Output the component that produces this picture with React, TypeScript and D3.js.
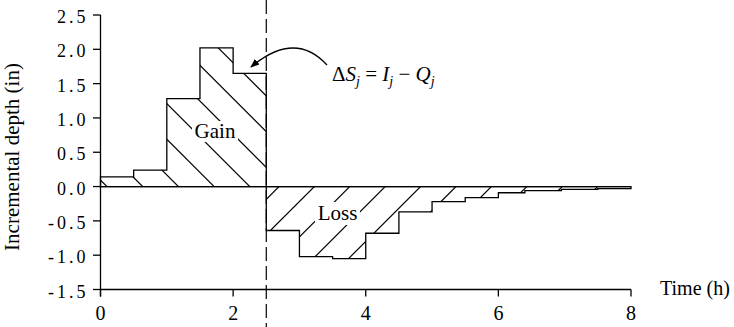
import React from 'react';
import * as d3 from 'd3';

const W = 734;
const H = 327;

// step edges (h) and incremental depth per step (in)
const gainEdges = [0, 0.5, 1.0, 1.5, 2.0, 2.5];
const gainDepths = [0.14, 0.24, 1.28, 2.02, 1.65];
const lossEdges = [2.5, 3.0, 3.5, 4.0, 4.5, 5.0, 5.5, 6.0, 6.4, 6.95, 7.5, 8.0];
const lossDepths = [-0.64, -1.02, -1.05, -0.68, -0.37, -0.22, -0.16, -0.09, -0.06, -0.04, -0.03];

const xTicks = [0, 2, 4, 6, 8];
const yTicks = [2.5, 2.0, 1.5, 1.0, 0.5, 0.0, -0.5, -1.0, -1.5];
const dividerTime = 2.5;

const font = '"Liberation Serif", "Times New Roman", serif';

const x = d3.scaleLinear().domain([0, 8]).range([100.5, 631]);
const y = d3.scaleLinear().domain([-1.5, 2.5]).range([289.5, 15]);

const line = d3.line<[number, number]>().x(d => x(d[0])).y(d => y(d[1]));

function stepPoints(edges: number[], vals: number[]): [number, number][] {
  const pts: [number, number][] = [[edges[0], 0]];
  vals.forEach((v, i) => {
    pts.push([edges[i], v]);
    pts.push([edges[i + 1], v]);
  });
  pts.push([edges[edges.length - 1], 0]);
  return pts;
}

const gainPath = line(stepPoints(gainEdges, gainDepths)) + 'Z';
const lossPath = line(stepPoints(lossEdges, lossDepths)) + 'Z';

// hatch lines, spaced along the zero line
const y0 = y(0);
const gainHatch = d3.range(0, 9).map(k => {
  const c = 107 + k * 35.7;
  return `M${c - 260},${y0 - 260}L${c + 40},${y0 + 40}`;
});
const lossHatch = d3.range(0, 11).map(k => {
  const c = 279 + k * 35.4;
  return `M${c + 40},${y0 - 40}L${c - 220},${y0 + 220}`;
});

export default function App() {
  const ax = x(0);
  const ay = y(-1.5);
  return (
    <svg width={W} height={H} style={{ display: 'block', position: 'absolute', left: 0, top: 0 }}>
      <defs>
        <clipPath id="gainClip"><path d={gainPath} /></clipPath>
        <clipPath id="lossClip"><path d={lossPath} /></clipPath>
        <marker id="head" viewBox="0 0 10 10" refX="9" refY="5" markerWidth="9" markerHeight="9"
          markerUnits="userSpaceOnUse" orient="auto">
          <path d="M0,1L10,5L0,9Z" fill="#000" />
        </marker>
      </defs>
      <rect width={W} height={H} fill="#fff" />

      {/* hatching */}
      <g clipPath="url(#gainClip)" stroke="#000" strokeWidth={1.2}>
        {gainHatch.map((d, i) => <path key={i} d={d} />)}
      </g>
      <g clipPath="url(#lossClip)" stroke="#000" strokeWidth={1.2}>
        {lossHatch.map((d, i) => <path key={i} d={d} />)}
      </g>

      {/* region outlines */}
      <path d={gainPath} fill="none" stroke="#000" strokeWidth={1.3} />
      <path d={lossPath} fill="none" stroke="#000" strokeWidth={1.3} />

      {/* zero line */}
      <line x1={x(0)} x2={x(8)} y1={y0} y2={y0} stroke="#000" strokeWidth={1.3} />

      {/* divider */}
      <line x1={x(dividerTime)} x2={x(dividerTime)} y1={0} y2={H} stroke="#000"
        strokeWidth={1.2} strokeDasharray="14 5" />

      {/* labels in regions */}
      <rect x={192} y={121} width={46} height={21} fill="#fff" />
      <text x={215} y={138} textAnchor="middle" fontFamily={font} fontSize={21}>Gain</text>
      <rect x={315} y={202} width={45} height={23} fill="#fff" />
      <text x={337.5} y={220} textAnchor="middle" fontFamily={font} fontSize={21}>Loss</text>

      {/* y axis */}
      <line x1={ax} x2={ax} y1={y(2.5)} y2={ay + 7} stroke="#000" strokeWidth={1.3} />
      {yTicks.map(t => (
        <g key={t}>
          <line x1={ax - 7.5} x2={ax} y1={y(t)} y2={y(t)} stroke="#000" strokeWidth={1.3} />
          <text x={ax - 12} y={y(t) + 8} textAnchor="end" fontFamily={font} fontSize={18}
            letterSpacing={3}>{t.toFixed(1)}</text>
        </g>
      ))}
      <text transform="translate(19,157) rotate(-90)" textAnchor="middle" fontFamily={font}
        fontSize={21}>Incremental depth (in)</text>

      {/* x axis */}
      <line x1={ax} x2={x(8)} y1={ay} y2={ay} stroke="#000" strokeWidth={1.3} />
      {xTicks.map(t => (
        <g key={t}>
          <line x1={x(t)} x2={x(t)} y1={ay} y2={ay + 7} stroke="#000" strokeWidth={1.3} />
          <text x={x(t)} y={ay + 30} textAnchor="middle" fontFamily={font} fontSize={20}>{t}</text>
        </g>
      ))}
      <text x={660} y={295} fontFamily={font} fontSize={20}>Time (h)</text>

      {/* annotation */}
      <path d="M327,65Q295,30 251,67" fill="none" stroke="#000" strokeWidth={1.3} markerEnd="url(#head)" />
      <text x={332} y={81} fontFamily={font} fontSize={21}>
        <tspan>Δ</tspan>
        <tspan fontStyle="italic">S</tspan>
        <tspan fontStyle="italic" fontSize={14} dy={5}>j</tspan>
        <tspan dy={-5}> = </tspan>
        <tspan fontStyle="italic">I</tspan>
        <tspan fontStyle="italic" fontSize={14} dy={5}>j</tspan>
        <tspan dy={-5}> − </tspan>
        <tspan fontStyle="italic">Q</tspan>
        <tspan fontStyle="italic" fontSize={14} dy={5}>j</tspan>
      </text>
    </svg>
  );
}
